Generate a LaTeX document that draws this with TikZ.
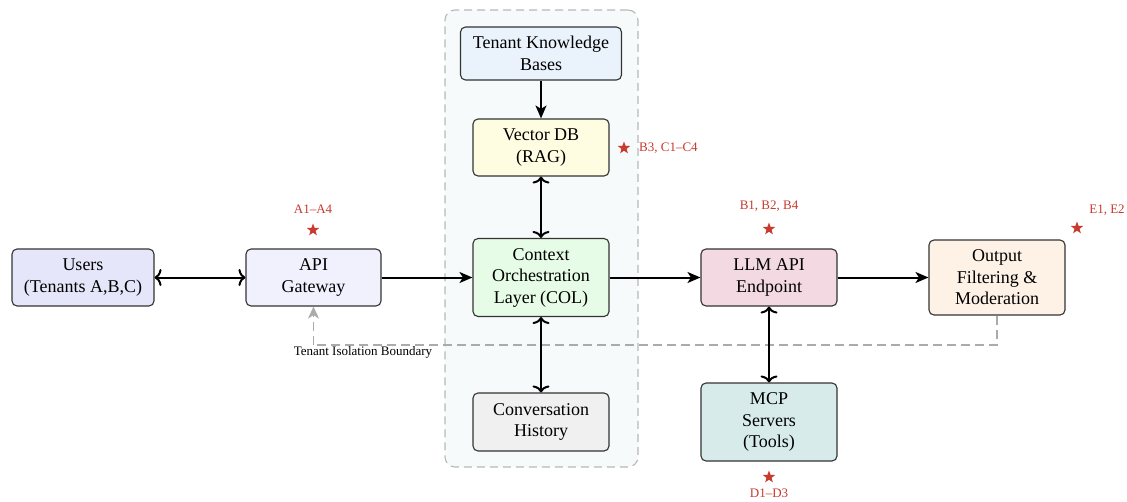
\documentclass[tikz,border=0pt]{standalone}
\usepackage{fontspec}
\setmainfont{Liberation Serif}
\usetikzlibrary{arrows.meta,shapes.geometric}
\definecolor{cUsers}{HTML}{E6E6FA}
\definecolor{cApi}{HTML}{F1F1FE}
\definecolor{cTkb}{HTML}{EAF2FB}
\definecolor{cVdb}{HTML}{FEFCE1}
\definecolor{cCol}{HTML}{E6FCE6}
\definecolor{cConv}{HTML}{F0F0F0}
\definecolor{cLlm}{HTML}{F3D9E2}
\definecolor{cOut}{HTML}{FEF2E6}
\definecolor{cMcp}{HTML}{D7EBEA}
\definecolor{cBox}{HTML}{F6FAFB}
\definecolor{cRed}{HTML}{C8392E}
\definecolor{cBound}{HTML}{ABABAB}
\tikzset{
  blk/.style={draw=black!80, line width=1.1pt, rounded corners=5pt, align=center,
    font=\fontsize{18}{21.5}\selectfont, inner sep=0pt},
  w136/.style={minimum width=136pt},
  flow/.style={line width=2pt, -{Stealth[length=13pt,width=11pt,inset=3.5pt]}},
  biflow/.style={line width=2pt, {To[length=7pt,width=17pt]}-{To[length=7pt,width=17pt]}},
  starmark/.style={star, star points=5, star point ratio=2.4, fill=cRed, draw=none,
    minimum size=13pt, inner sep=0pt},
  redlbl/.style={text=cRed, font=\fontsize{13}{15}\selectfont, inner sep=0pt},
}
\begin{document}
\begin{tikzpicture}[x=1pt,y=-1pt]
\useasboundingbox (0,0) rectangle (1127,501);
% container
\node[draw=black!28, fill=cBox, dash pattern=on 8pt off 5pt, line width=1.1pt,
  rounded corners=10pt, minimum width=193pt, minimum height=457pt] (box) at (541.5,238.5) {};
% nodes
\node[blk, fill=cUsers, minimum width=142pt, minimum height=57pt] (users) at (83,277.5) {Users\\(Tenants A,B,C)};
\node[blk, fill=cApi, minimum width=135pt, minimum height=57pt] (api) at (313.5,277.5) {API\\Gateway};
\node[blk, fill=cTkb, minimum width=161pt, minimum height=53pt] (tkb) at (541,53.5) {Tenant Knowledge\\Bases};
\node[blk, fill=cVdb, w136, minimum height=57pt] (vdb) at (541,147.5) {Vector DB\\(RAG)};
\node[blk, fill=cCol, w136, minimum height=78pt] (col) at (541,277.5) {Context\\Orchestration\\Layer (COL)};
\node[blk, fill=cConv, w136, minimum height=58pt] (conv) at (541,422) {Conversation\\History};
\node[blk, fill=cLlm, w136, minimum height=57pt] (llm) at (769,277.5) {LLM API\\Endpoint};
\node[blk, fill=cOut, w136, minimum height=75pt] (out) at (997,277.5) {Output\\Filtering \&\\Moderation};
\node[blk, fill=cMcp, w136, minimum height=78pt] (mcp) at (769,422) {MCP\\Servers\\(Tools)};
% isolation boundary
\coordinate (bR) at (997,345);
\coordinate (bL) at (313.5,345);
\draw[cBound, line width=1.8pt, dash pattern=on 9pt off 5pt] (out.south) -- (bR) -- (bL);
\draw[cBound, line width=1.8pt, dash pattern=on 9pt off 5pt, -{Stealth[length=12pt,width=11pt,inset=3.5pt]}] (bL) -- (api.south);
\node[font=\fontsize{13}{15}\selectfont, inner sep=0pt] (blbl) at (363,352) {Tenant Isolation Boundary};
% connectors
\draw[biflow] (users.east) -- (api.west);
\draw[flow] (api.east) -- (col.west);
\draw[flow] (col.east) -- (llm.west);
\draw[flow] (llm.east) -- (out.west);
\draw[flow] (tkb.south) -- (vdb.north);
\draw[biflow] (vdb.south) -- (col.north);
\draw[biflow] (col.south) -- (conv.north);
\draw[biflow] (llm.south) -- (mcp.north);
% stars and labels
\node[starmark] (sA) at (313,230) {};
\node[redlbl] (lA) at (313,209) {A1–A4};
\node[starmark] (sB3) at (624,148) {};
\node[redlbl, anchor=west] (lB3) at (639,148) {B3, C1–C4};
\node[starmark] (sB) at (769,229) {};
\node[redlbl] (lB) at (769,206) {B1, B2, B4};
\node[starmark] (sE) at (1077,228) {};
\node[redlbl] (lE) at (1107,210) {E1, E2};
\node[starmark] (sD) at (769,477) {};
\node[redlbl] (lD) at (769,493) {D1–D3};
\end{tikzpicture}
\end{document}
